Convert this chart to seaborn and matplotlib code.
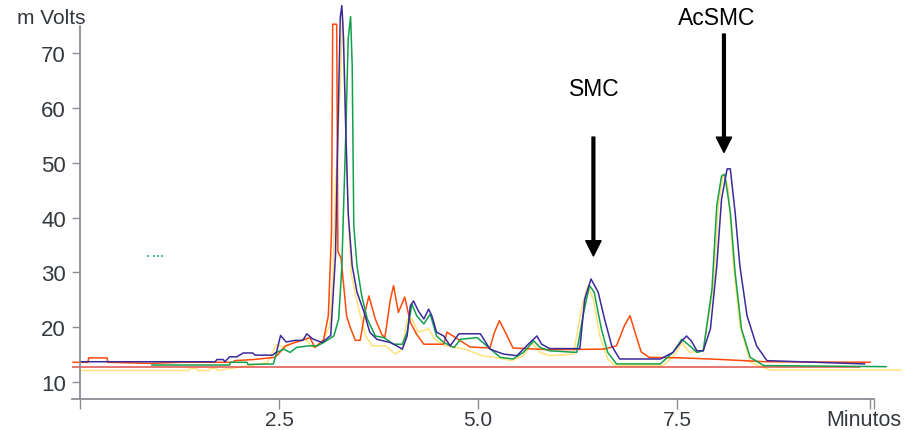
import numpy as np
import pandas as pd
import matplotlib
matplotlib.use("Agg")
import matplotlib.pyplot as plt
import seaborn as sns

# chromatogram traces: time (min) / signal (mV)
blue_t = [0.0, 1.70, 1.72, 1.80, 1.82, 1.88, 1.97, 2.05, 2.17, 2.20, 2.42, 2.47, 2.52, 2.59, 2.70, 2.80,
          2.85, 2.92, 3.04, 3.15, 3.21, 3.24, 3.27, 3.29, 3.31, 3.34, 3.37, 3.42, 3.48, 3.57, 3.64,
          3.73, 3.90, 3.98, 4.05, 4.11, 4.15, 4.19, 4.25, 4.32, 4.38, 4.42, 4.48, 4.57, 4.65, 4.76,
          5.03, 5.15, 5.32, 5.49, 5.61, 5.74, 5.80, 5.90, 6.28, 6.34, 6.42, 6.51, 6.59, 6.68, 6.78,
          7.29, 7.45, 7.56, 7.62, 7.68, 7.75, 7.83, 7.92, 8.00, 8.06, 8.13, 8.17, 8.23, 8.29, 8.38,
          8.50, 8.63, 9.86]
blue_v = [13.7, 13.7, 14.1, 14.1, 13.7, 14.6, 14.6, 15.3, 15.3, 14.9, 14.9, 15.5, 18.5, 17.3, 17.6, 17.6,
          18.8, 17.9, 17.2, 18.5, 33.0, 55.6, 76.6, 78.7, 73.0, 55.6, 40.8, 31.2, 26.4, 22.7, 19.1,
          17.8, 17.2, 16.6, 16.0, 18.4, 23.9, 24.8, 23.0, 21.5, 23.3, 22.1, 19.1, 18.4, 16.6, 18.8,
          18.8, 16.0, 15.1, 14.8, 16.6, 18.4, 16.9, 16.1, 16.1, 25.1, 28.8, 26.4, 21.5, 16.6, 14.2,
          14.2, 15.4, 17.5, 18.4, 17.5, 15.7, 15.7, 19.7, 31.2, 43.4, 48.9, 48.9, 41.0, 31.2, 22.1,
          16.6, 13.9, 13.3]

green_t = [0.90, 1.88, 1.89, 2.10, 2.11, 2.43, 2.47, 2.56, 2.64, 2.72, 2.87, 2.98, 3.06, 3.19, 3.25,
           3.29, 3.34, 3.37, 3.40, 3.42, 3.44, 3.48, 3.54, 3.61, 3.71, 3.82, 3.94, 4.05, 4.11, 4.17,
           4.23, 4.32, 4.40, 4.48, 4.57, 4.70, 4.78, 4.99, 5.11, 5.28, 5.44, 5.57, 5.70, 5.78, 5.90,
           6.24, 6.32, 6.40, 6.46, 6.55, 6.63, 6.74, 7.29, 7.45, 7.56, 7.66, 7.75, 7.83, 7.94, 8.00,
           8.06, 8.10, 8.17, 8.23, 8.31, 8.42, 8.59, 10.13]
green_v = [13.1, 13.1, 13.6, 13.6, 13.2, 13.3, 15.4, 16.0, 15.4, 16.3, 16.6, 16.6, 17.2, 18.4, 21.5,
           31.2, 55.6, 72.7, 76.7, 67.7, 38.5, 31.2, 25.7, 21.5, 18.4, 18.1, 16.9, 16.9, 19.1, 24.2,
           22.1, 20.6, 22.4, 18.4, 17.2, 16.3, 17.8, 18.1, 16.6, 14.5, 14.2, 15.4, 17.5, 16.3, 15.7,
           15.4, 22.1, 27.6, 26.4, 19.7, 15.4, 13.3, 13.3, 15.4, 17.8, 16.6, 15.4, 15.7, 27.0, 42.2,
           47.6, 47.9, 41.0, 30.0, 19.7, 14.5, 13.0, 12.8]

orange_t = [-0.09, 0.10, 0.11, 0.34, 0.35, 0.88, 1.26, 1.93, 1.94, 2.18, 2.45, 2.53, 2.58, 2.70, 2.89,
            2.95, 3.06, 3.12, 3.16, 3.175, 3.225, 3.24, 3.28, 3.35, 3.40, 3.46, 3.52, 3.58, 3.63, 3.71,
            3.79, 3.83, 3.90, 3.94, 4.00, 4.08, 4.15, 4.23, 4.32, 4.57, 4.61, 4.74, 4.90, 5.15, 5.21,
            5.27, 5.36, 5.44, 5.90, 6.58, 6.74, 6.84, 6.91, 6.97, 7.05, 7.15, 7.57, 8.07, 8.61, 9.93]
orange_v = [13.6, 13.6, 14.4, 14.4, 13.6, 13.4, 13.6, 13.6, 13.9, 14.1, 14.5, 15.7, 16.6, 17.2, 18.1,
            16.3, 17.7, 22.1, 37.3, 75.3, 75.3, 33.8, 32.6, 22.0, 19.8, 17.6, 17.6, 22.7, 25.7, 21.5,
            18.7, 18.1, 25.1, 27.6, 22.7, 25.5, 20.9, 18.7, 16.9, 16.9, 19.1, 17.9, 16.4, 16.2, 19.2,
            21.2, 18.6, 16.2, 15.9, 16.0, 16.6, 20.3, 22.1, 19.2, 15.5, 14.5, 14.4, 14.1, 13.7, 13.6]

yellow_t = [0.0, 1.37, 1.38, 1.47, 1.48, 1.62, 1.63, 1.72, 1.73, 2.35, 2.40, 2.47, 2.56, 2.68, 2.83,
            2.93, 3.04, 3.14, 3.18, 3.21, 3.24, 3.27, 3.30, 3.33, 3.37, 3.41, 3.50, 3.59, 3.67, 3.84,
            3.96, 4.05, 4.11, 4.17, 4.25, 4.38, 4.46, 4.59, 4.84, 5.05, 5.22, 5.42, 5.57, 5.68, 5.78,
            5.90, 6.20, 6.30, 6.38, 6.45, 6.53, 6.63, 6.72, 7.33, 7.48, 7.56, 7.66, 7.83, 7.96, 8.02,
            8.08, 8.14, 8.21, 8.29, 8.42, 8.67, 10.32]
yellow_v = [12.1, 12.1, 12.5, 12.5, 12.1, 12.1, 12.5, 12.5, 12.1, 13.5, 14.8, 16.9, 16.2, 17.2, 17.8,
            16.3, 17.2, 20.3, 30.0, 45.8, 53.7, 64.7, 77.0, 61.6, 40.3, 29.5, 23.4, 18.4, 16.6, 16.6,
            15.1, 16.0, 21.5, 21.5, 19.1, 19.7, 17.8, 16.6, 16.0, 14.8, 14.5, 13.9, 14.8, 17.2, 15.4,
            14.8, 15.1, 23.4, 27.6, 25.1, 18.4, 14.2, 13.0, 13.0, 15.1, 17.2, 15.4, 15.7, 27.6, 42.2,
            47.9, 45.8, 31.2, 20.3, 13.6, 12.2, 12.2]

red_t = [-0.1, 9.8]
red_v = [12.7, 12.7]

dots_t = [0.85, 0.93, 0.98, 1.03]
dots_v = [33.0, 33.0, 33.0, 33.0]

traces = {"yellow": (yellow_t, yellow_v), "red": (red_t, red_v), "orange": (orange_t, orange_v),
          "green": (green_t, green_v), "blue": (blue_t, blue_v)}
colors = {"yellow": "#ffe27a", "red": "#e0504a", "orange": "#ff4a0a",
          "green": "#12a04c", "blue": "#3b2a9c"}

rows = []
for name, (ts, vs) in traces.items():
    for i, (t, v) in enumerate(zip(ts, vs)):
        rows.append({"trace": name, "order": i, "t": t, "mv": v})
df = pd.DataFrame(rows)

sns.set_style("white")
plt.rcParams["font.family"] = ["Liberation Sans", "DejaVu Sans"]

fig = plt.figure(figsize=(9.06, 4.31), dpi=100)
ax = fig.add_axes([72 / 906, 31 / 431, 834 / 906, 400 / 431])

sns.lineplot(data=df, x="t", y="mv", hue="trace", hue_order=list(traces.keys()),
             palette=colors, estimator=None, sort=False, legend=False, lw=1.1, ax=ax)
ax.scatter(dots_t, dots_v, s=2, color="#4cc0a0", marker="s", linewidths=0)

ax.set_xlim(-0.1, 10.377)
ax.set_ylim(6.9, 79.9)
ax.set_xlabel("")
ax.set_ylabel("")

for s in ["top", "right"]:
    ax.spines[s].set_visible(False)
spine_col = "#8a8f94"
ax.spines["left"].set_position(("data", 0))
ax.spines["left"].set_bounds(6.9, 75)
ax.spines["bottom"].set_bounds(-0.1, 9.97)
for s in ["left", "bottom"]:
    ax.spines[s].set_color(spine_col)
    ax.spines[s].set_linewidth(1.3)

ax.set_yticks([10, 20, 30, 40, 50, 60, 70])
ax.set_xticks([0, 2.5, 5.0, 7.5, 9.92, 9.97])
ax.set_xticklabels(["", "2.5", "5.0", "7.5", "", ""])
ax.tick_params(axis="y", direction="out", length=6, width=1, color=spine_col,
               labelsize=16, labelcolor="#33393e", pad=4, left=True)
ax.tick_params(axis="x", direction="out", length=7, width=1, color=spine_col,
               labelsize=15, labelcolor="#33393e", pad=1, bottom=True)

fig.text(51 / 906, 1 - 18 / 431, "m Volts", fontsize=15, color="#33393e", ha="center", va="center")
fig.text(864 / 906, 1 - 421 / 431, "Minutos", fontsize=15.5, color="#33393e", ha="center", va="center")

# peak markers
ax.annotate("", xy=(6.45, 33.0), xytext=(6.45, 54.7),
            arrowprops=dict(facecolor="black", edgecolor="black", width=2, headwidth=11,
                            headlength=11, shrink=0))
ax.text(6.457, 63.6, "SMC", fontsize=16.5, ha="center", va="center", color="black")
ax.annotate("", xy=(8.09, 51.9), xytext=(8.09, 73.5),
            arrowprops=dict(facecolor="black", edgecolor="black", width=2, headwidth=11,
                            headlength=11, shrink=0))
ax.text(8.0, 76.6, "AcSMC", fontsize=16.5, ha="center", va="center", color="black")

fig.savefig("out.png", dpi=100)
